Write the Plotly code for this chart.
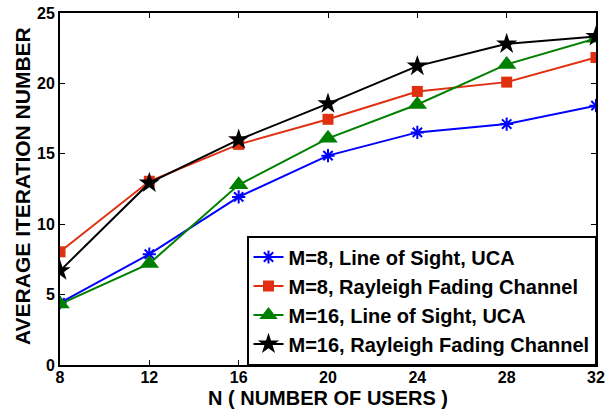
import plotly.graph_objects as go

users = [8, 12, 16, 20, 24, 28, 32]
m8_los = [4.42, 7.87, 11.94, 14.87, 16.52, 17.11, 18.42]
m8_ray = [8.04, 13.05, 15.67, 17.45, 19.43, 20.09, 21.84]
m16_los = [4.33, 7.2, 12.8, 16.1, 18.5, 21.35, 23.2]
m16_ray = [6.69, 12.93, 16.0, 18.56, 21.23, 22.81, 23.33]
names = ["M=8, Line of Sight, UCA", "M=8, Rayleigh Fading Channel",
         "M=16, Line of Sight, UCA", "M=16, Rayleigh Fading Channel"]
xticks = [8, 12, 16, 20, 24, 28, 32]
yticks = [0, 5, 10, 15, 20, 25]
x_title = "N ( NUMBER OF USERS )"
y_title = "AVERAGE ITERATION NUMBER"

fig = go.Figure()
styles = [
    dict(color="#0000ff", symbol="asterisk-open", size=11, mline=dict(color="#0000ff", width=2)),
    dict(color="#e03010", symbol="square", size=11, mline=dict(width=0)),
    dict(color="#008000", symbol="triangle-up", size=17, mline=dict(width=0)),
    dict(color="#000000", symbol="star", size=16, mline=dict(width=0)),
]
for ys, nm, st in zip([m8_los, m8_ray, m16_los, m16_ray], names, styles):
    fig.add_trace(go.Scatter(
        x=users, y=ys, name=nm, mode="lines+markers",
        line=dict(color=st["color"], width=2),
        marker=dict(color=st["color"], symbol=st["symbol"], size=st["size"], line=st["mline"]),
    ))

font_fam = "Liberation Sans, Arial, Helvetica, sans-serif"
fig.update_layout(
    width=605, height=410,
    margin=dict(l=60, r=9, t=13, b=45),
    paper_bgcolor="white", plot_bgcolor="white",
    font=dict(family=font_fam, color="black"),
    showlegend=True,
    legend=dict(
        x=1, y=0, xanchor="right", yanchor="bottom",
        bgcolor="white", bordercolor="black", borderwidth=1.5,
        font=dict(size=20, family=font_fam, color="black", weight="bold"),
        tracegroupgap=0,
    ),
    xaxis=dict(
        range=[8, 32], tickvals=xticks, ticktext=[str(v) for v in xticks],
        showgrid=False, zeroline=False, showline=True, linecolor="black", linewidth=2,
        mirror="ticks", ticks="inside", ticklen=5, tickcolor="black", tickwidth=1,
        tickfont=dict(size=16, weight="bold"), automargin=False, ticklabelstandoff=-3,
    ),
    yaxis=dict(
        range=[0, 25], tickvals=yticks, ticktext=[str(v) for v in yticks],
        showgrid=False, zeroline=False, showline=True, linecolor="black", linewidth=2,
        mirror="ticks", ticks="inside", ticklen=5, tickcolor="black", tickwidth=1,
        tickfont=dict(size=16, weight="bold"), automargin=False,
    ),
    annotations=[
        dict(text=x_title, xref="paper", yref="paper", x=0.5, y=0,
             xanchor="center", yanchor="middle", yshift=-33, showarrow=False,
             font=dict(size=20, weight="bold", color="black")),
        dict(text=y_title, xref="paper", yref="paper", x=0, y=0.5, textangle=-90,
             xanchor="center", yanchor="middle", xshift=-38, yshift=3, showarrow=False,
             font=dict(size=21, weight="bold", color="black")),
    ],
)
fig.write_html("out.html", config={"displayModeBar": False},
               post_script="document.body.style.margin='0';")
